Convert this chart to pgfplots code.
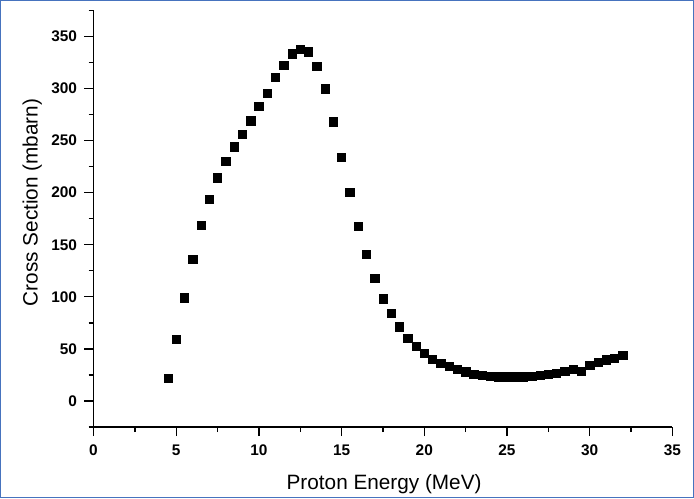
\documentclass[border=0pt]{standalone}
\usepackage{pgfplots}
\pgfplotsset{compat=1.18}
\usepackage{fontspec}
\setmainfont{Liberation Sans}
\definecolor{frameblue}{RGB}{70,115,190}
\begin{document}
\begin{tikzpicture}
\draw[frameblue,line width=1.1pt] (1.6pt,1.6pt) rectangle (518.9pt,372.65pt);
\begin{axis}[
  at={(70.9pt,54.2pt)}, anchor=south west,
  scale only axis, width=432.4pt, height=311.3pt,
  xmin=0, xmax=35, ymin=-25, ymax=375,
  axis lines=left, axis line style={-, line width=1pt},
  xtick={0,5,...,35}, ytick={0,50,...,350},
  minor xtick={2.5,7.5,...,32.5}, minor ytick={-25,25,...,375},
  tick align=outside, tick style={black, line width=1pt},
  major tick length=6.8pt, minor tick length=3.7pt,
  /pgf/number format/assume math mode=true,
  ticklabel style={font=\fontsize{11.5}{13}\selectfont\bfseries},
  xticklabel style={yshift=-3pt},
  yticklabel style={xshift=-2pt},
  xlabel={Proton Energy (MeV)}, ylabel={Cross Section (mbarn)},
  label style={font=\fontsize{15.5}{18}\selectfont},
  xlabel style={at={(axis description cs:0.502,-0.136)}, anchor=center},
  ylabel style={at={(axis description cs:-0.106,0.539)}, anchor=center},
  clip=false,
]
\addplot[only marks, mark=square*, mark size=3.1pt, black] coordinates {
(4.5,21.8) (5.0,59.5) (5.5,99.2) (6.0,135.9) (6.5,168.6) (7.0,193.4) (7.5,214.3)
(8.0,230.2) (8.5,244.0) (9.0,256.0) (9.5,268.9) (10.0,282.8) (10.5,295.6)
(11.0,310.5) (11.5,322.4) (12.0,333.3) (12.5,337.3) (13.0,335.3) (13.5,321.4)
(14.0,299.6) (14.5,267.9) (15.0,234.1) (15.5,200.4) (16.0,167.6) (16.5,140.8)
(17.0,118.0) (17.5,98.2) (18.0,84.3) (18.5,71.4) (19.0,60.5) (19.5,52.5)
(20.0,45.6) (20.5,40.1) (21.0,36.4) (21.5,33.1) (22.0,30.5) (22.5,28.2)
(23.0,26.0) (23.5,24.4) (24.0,23.5) (24.5,23.2) (25.0,23.2) (25.5,23.2)
(26.0,23.2) (26.5,23.8) (27.0,25.0) (27.5,26.0) (28.0,26.9) (28.5,28.7)
(29.0,30.5) (29.5,28.7) (30.0,34.0) (30.5,36.9) (31.0,39.5) (31.5,41.1)
(32.0,43.6)
};
\end{axis}
\end{tikzpicture}
\end{document}
